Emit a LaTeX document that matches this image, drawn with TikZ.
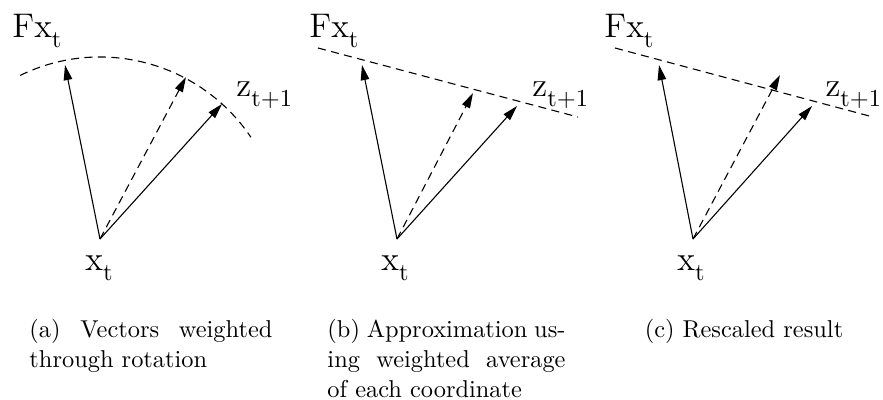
\documentclass[tikz,border=0pt]{standalone}
\usepackage{fontspec}
\usetikzlibrary{arrows.meta}
\newfontfamily\lblfont{Latin Modern Roman}
\newcommand\lblsize{\fontsize{14}{17}\selectfont}
\newcommand\lsub[1]{\raisebox{-4.3pt}{\fontsize{10}{12}\selectfont #1}}
\newcommand\jline[2]{\leavevmode\hbox to #1{#2}}
\begin{document}
\begin{tikzpicture}[x=0.41pt, y=-0.41pt,
  vec/.style={line width=0.45pt, -{Triangle[length=6.2pt,width=3.5pt]}},
  dvec/.style={vec, dash pattern=on 3.3pt off 2.2pt},
  guide/.style={line width=0.45pt, dash pattern=on 3.3pt off 2.2pt},
  lbl/.style={inner sep=0pt, anchor=base west, font=\lblfont\lblsize},
  captext/.style={inner sep=0pt, anchor=base west, font=\fontsize{10}{12.3}\selectfont, align=left}]
\useasboundingbox (0,0) rectangle (883,399);

% ---------- panel (a)
\coordinate (Oa) at (100,239);
\coordinate (Fta) at (65,65);
\coordinate (Dta) at (186,77);
\coordinate (Zta) at (222,104);
\coordinate (Aa0) at (20.2,75.4);
\draw[guide] (Aa0) arc[start angle=-116, end angle=-34, radius=182];
\draw[vec] (Oa) -- (Fta);
\draw[vec] (Oa) -- (Zta);
\draw[dvec] (Oa) -- (Dta);
\node[lbl] (Fa) at (12,37) {Fx\lsub{t}};
\node[lbl] (za) at (236,96) {z\lsub{t+1}};
\node[lbl] (xa) at (85,270) {x\lsub{t}};

% ---------- panel (b)
\coordinate (Ob) at (397,239);
\coordinate (Ftb) at (362,65);
\coordinate (Dtb) at (473,93);
\coordinate (Ztb) at (517,106);
\coordinate (Lb0) at (318,48);
\coordinate (Lb1) at (578,117);
\draw[guide] (Lb0) -- (Lb1);
\draw[vec] (Ob) -- (Ftb);
\draw[vec] (Ob) -- (Ztb);
\draw[dvec] (Ob) -- (Dtb);
\node[lbl] (Fb) at (309,37) {Fx\lsub{t}};
\node[lbl] (zb) at (532,96) {z\lsub{t+1}};
\node[lbl] (xb) at (381,270) {x\lsub{t}};

% ---------- panel (c)
\coordinate (Oc) at (693,239);
\coordinate (Ftc) at (659,65);
\coordinate (Dtc) at (780,75);
\coordinate (Ztc) at (812,106);
\coordinate (Lc0) at (615,48);
\coordinate (Lc1) at (873,117);
\draw[guide] (Lc0) -- (Lc1);
\draw[vec] (Oc) -- (Ftc);
\draw[vec] (Oc) -- (Ztc);
\draw[dvec] (Oc) -- (Dtc);
\node[lbl] (Fc) at (604,37) {Fx\lsub{t}};
\node[lbl] (zc) at (825,96) {z\lsub{t+1}};
\node[lbl] (xc) at (677,270) {x\lsub{t}};

% ---------- captions
\node[captext, text width=99.6pt] (capa) at (29,337)
  {\jline{99.6pt}{(a)\hfill Vectors\hfill weighted}\\through rotation};
\node[captext, text width=97.6pt] (capb) at (327,337)
  {\jline{97.6pt}{(b)\hfill Approximation\hfill us-}\\\jline{97.6pt}{ing\hfill weighted\hfill average}\\of each coordinate};
\node[inner sep=0pt, anchor=base, font=\fontsize{10}{12.3}\selectfont] (capc) at (744,337) {(c) Rescaled result};
\end{tikzpicture}
\end{document}
